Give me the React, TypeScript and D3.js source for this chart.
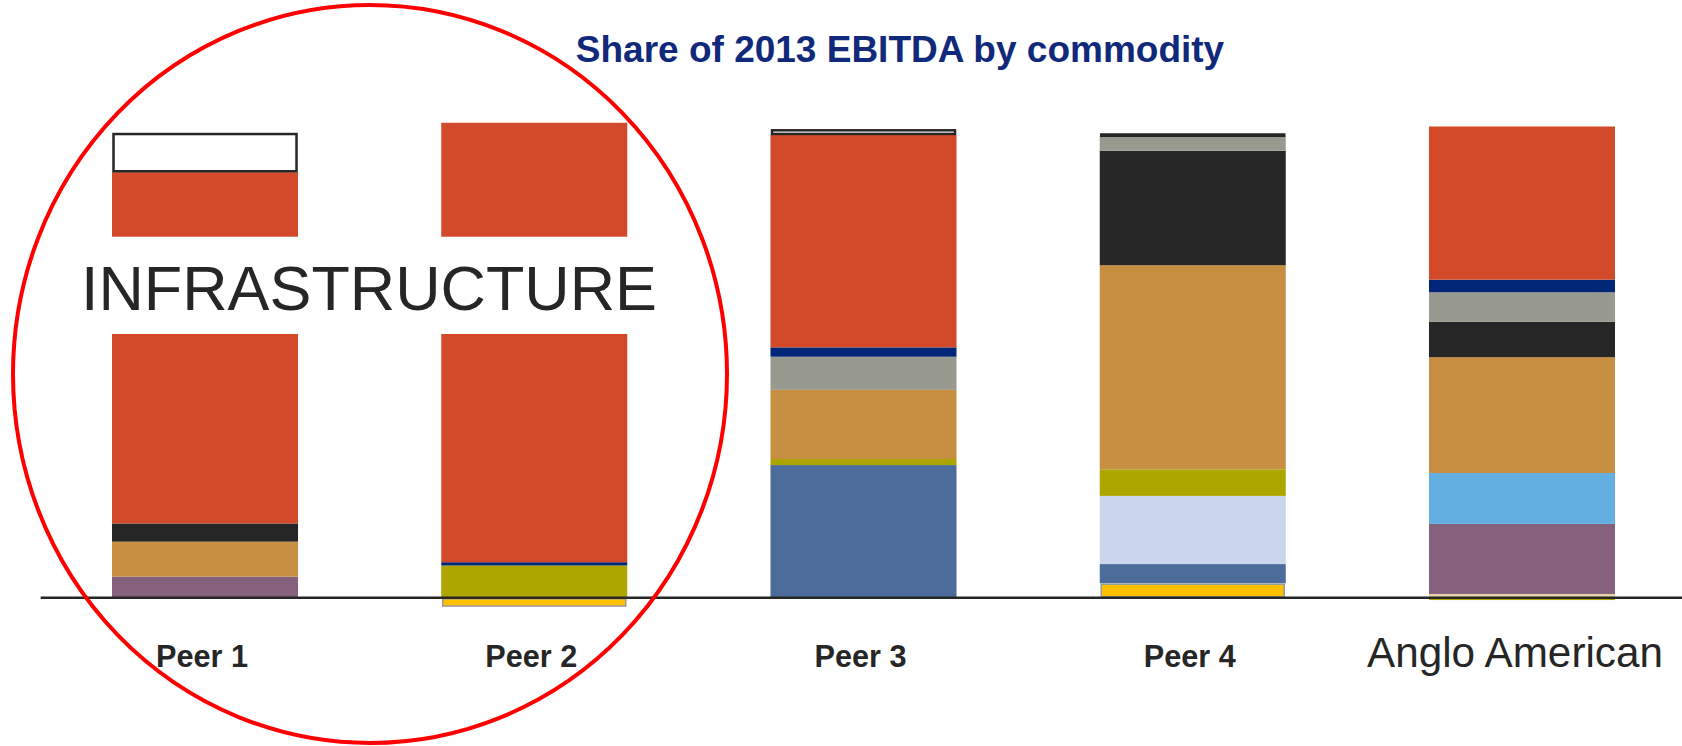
import React from "react";
import * as d3 from "d3";

const W = 1682;
const H = 746;

// peers along the axis
const peers = ["Peer 1", "Peer 2", "Peer 3", "Peer 4", "Anglo American"];

// stacking order, bottom to top
const commodities = [
  "Gold",
  "Petroleum",
  "Aluminium",
  "Other metals",
  "Platinum",
  "Diamonds",
  "Zinc",
  "Copper",
  "Coal",
  "Nickel",
  "Manganese",
  "Iron ore",
  "Other",
];

const colors = [
  "#FFC000",
  "#4C6C9B",
  "#CBD6EC",
  "#E6D3A8",
  "#86617D",
  "#63AFE1",
  "#ADA600",
  "#C78F42",
  "#262626",
  "#999A8F",
  "#002677",
  "#D24A29",
  "#FFFFFF",
];

// share of EBITDA, % (one value per peer, same order as peers)
const gold = [0, -2.0, 0, 3.1, 0];
const petroleum = [0, 0, 28.4, 4.1, 0];
const aluminium = [0, 0, 0, 14.6, 0];
const otherMetals = [0, 0, 0, 0, 0.8];
const platinum = [4.5, 0, 0, 0, 15.0];
const diamonds = [0, 0, 0, 0, 10.9];
const zinc = [0, 6.9, 1.3, 5.7, -0.5];
const copper = [7.5, 0, 14.8, 43.7, 24.8];
const coal = [3.9, 0, 0, 24.5, 7.6];
const nickel = [0, 0, 7.1, 3.0, 6.3];
const manganese = [0, 0.7, 2.0, 0, 2.7];
const ironOre = [75.2, 94.1, 45.5, 0, 32.8];
const other = [8.4, 0, 1.2, 0.7, 0];

const series = [
  gold,
  petroleum,
  aluminium,
  otherMetals,
  platinum,
  diamonds,
  zinc,
  copper,
  coal,
  nickel,
  manganese,
  ironOre,
  other,
];

const rows = peers.map((p, i) => {
  const r: Record<string, any> = { peer: p };
  commodities.forEach((c, k) => (r[c] = series[k][i]));
  return r;
});

export default function App() {
  const x = d3
    .scaleBand<string>()
    .domain(peers)
    .range([112, 1615])
    .paddingInner(0.435)
    .paddingOuter(0);

  const y = d3.scaleLinear().domain([0, 100]).range([597.7, 130.7]);

  const color = d3.scaleOrdinal<string, string>(commodities, colors);

  const stacked = d3
    .stack<any>()
    .keys(commodities)
    .offset(d3.stackOffsetDiverging)(rows);

  const bw = x.bandwidth();

  return (
    <svg
      width={W}
      height={H}
      style={{ position: "absolute", left: 0, top: 0, background: "#fff" }}
      fontFamily="'Liberation Sans', Arial, sans-serif"
    >
      <text
        x={900}
        y={62}
        textAnchor="middle"
        fontSize={37}
        fontWeight="bold"
        fill="#10297A"
      >
        Share of 2013 EBITDA by commodity
      </text>

      {stacked.map((s) => (
        <g key={s.key}>
          {s.map((d, i) => {
            const v = d[1] - d[0];
            if (v === 0) return null;
            const top = y(Math.max(d[0], d[1]));
            const h = Math.abs(y(d[0]) - y(d[1]));
            const outlined = s.key === "Other" || s.key === "Gold";
            const inset = outlined ? 1.5 : 0;
            return (
              <rect
                key={i}
                x={x(peers[i])! + inset}
                y={top + (outlined ? 1 : 0)}
                width={bw - inset * 2}
                height={Math.max(0, h - (outlined ? 2 : 0))}
                fill={color(s.key)}
                stroke={
                  s.key === "Other" ? "#262626" : s.key === "Gold" ? "#9a9a9a" : "none"
                }
                strokeWidth={s.key === "Other" ? 2.5 : s.key === "Gold" ? 1.5 : 0}
              />
            );
          })}
        </g>
      ))}

      {/* white band behind the annotation */}
      <rect x={70} y={236.7} width={600} height={97.3} fill="#fff" />
      <text
        x={369}
        y={310}
        textAnchor="middle"
        fontSize={63}
        fill="#262626"
        textLength={576}
        lengthAdjust="spacingAndGlyphs"
      >
        INFRASTRUCTURE
      </text>

      <line
        x1={40.7}
        x2={W}
        y1={y(0)}
        y2={y(0)}
        stroke="#262626"
        strokeWidth={2.5}
      />

      {peers.map((p) => {
        const anglo = p === "Anglo American";
        return (
          <text
            key={p}
            x={x(p)! + bw / 2 + (anglo ? -7 : -3)}
            y={667}
            textAnchor="middle"
            fontSize={anglo ? 42 : 31}
            fontWeight={anglo ? "normal" : "bold"}
            fill="#262626"
            textLength={anglo ? 296 : 92}
            lengthAdjust="spacingAndGlyphs"
          >
            {p}
          </text>
        );
      })}

      <ellipse
        cx={370}
        cy={374}
        rx={357}
        ry={369}
        fill="none"
        stroke="#FF0000"
        strokeWidth={4}
      />
    </svg>
  );
}
